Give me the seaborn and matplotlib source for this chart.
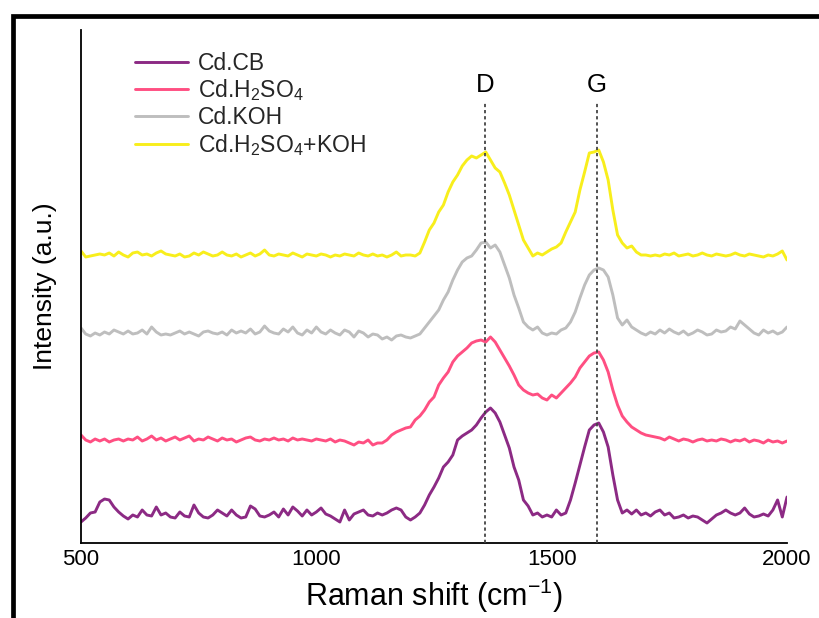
import matplotlib
matplotlib.use("Agg")
import matplotlib.pyplot as plt
import numpy as np
import pandas as pd
import seaborn as sns
from matplotlib.patches import Rectangle

# ---------------- data ----------------
shift = list(range(500, 2001, 10))

cd_cb = [
    21, 25, 30, 31, 41, 44, 43, 36, 31, 27,
    24, 28, 26, 33, 28, 27, 36, 28, 30, 26,
    25, 31, 27, 26, 38, 30, 26, 25, 28, 33,
    30, 27, 33, 28, 25, 26, 37, 34, 27, 26,
    28, 31, 26, 34, 28, 36, 32, 27, 33, 28,
    31, 35, 29, 27, 24, 21, 33, 23, 29, 31,
    33, 28, 27, 30, 28, 30, 33, 35, 33, 26,
    23, 26, 30, 38, 48, 56, 65, 76, 81, 88,
    103, 107, 110, 113, 118, 125, 131, 135, 130, 121,
    108, 95, 76, 63, 43, 37, 28, 30, 26, 28,
    26, 33, 28, 30, 43, 60, 78, 96, 113, 118,
    120, 111, 96, 68, 43, 30, 33, 29, 33, 28,
    30, 27, 31, 33, 28, 30, 25, 26, 28, 25,
    27, 26, 23, 20, 24, 28, 30, 33, 30, 28,
    30, 35, 29, 26, 27, 29, 27, 33, 43, 26,
    46,
]

cd_h2so4 = [
    108, 103, 101, 104, 102, 104, 101, 103, 104, 102,
    104, 103, 106, 102, 104, 107, 103, 105, 102, 104,
    106, 103, 105, 107, 102, 104, 103, 106, 104, 102,
    105, 103, 104, 101, 103, 105, 106, 103, 102, 104,
    103, 105, 103, 104, 102, 105, 103, 104, 103, 102,
    104, 103, 102, 104, 101, 103, 102, 100, 98, 101,
    100, 103, 98, 100, 100, 103, 108, 111, 113, 115,
    116, 123, 127, 133, 141, 146, 158, 165, 171, 181,
    187, 191, 195, 200, 202, 203, 201, 206, 201, 193,
    185, 177, 168, 158, 153, 150, 148, 149, 145, 143,
    148, 145, 150, 155, 160, 166, 175, 181, 187, 190,
    191, 183, 171, 153, 138, 127, 121, 116, 113, 110,
    108, 107, 106, 105, 103, 106, 104, 102, 104, 103,
    101, 103, 104, 102, 103, 102, 104, 103, 101, 103,
    102, 104, 101, 103, 102, 100, 103, 101, 102, 100,
    102,
]

cd_koh = [
    215, 209, 207, 210, 208, 211, 209, 213, 211, 209,
    212, 209, 210, 213, 209, 216, 211, 208, 209, 208,
    210, 212, 209, 211, 209, 207, 211, 212, 210, 209,
    211, 208, 213, 210, 212, 210, 214, 209, 211, 217,
    212, 210, 209, 214, 211, 216, 210, 208, 213, 210,
    216, 211, 209, 213, 210, 208, 213, 211, 206, 212,
    210, 206, 209, 208, 204, 206, 203, 207, 208, 206,
    205, 207, 209, 215, 221, 227, 233, 243, 251, 263,
    273, 281, 285, 287, 293, 300, 301, 295, 298, 291,
    278, 265, 248, 235, 221, 216, 213, 216, 210, 208,
    210, 209, 213, 215, 221, 231, 245, 258, 268, 273,
    275, 273, 266, 248, 225, 218, 223, 216, 213, 210,
    208, 211, 209, 213, 210, 214, 211, 209, 212, 208,
    210, 213, 211, 208, 209, 213, 211, 212, 216, 214,
    222, 218, 214, 210, 208, 213, 210, 212, 209, 211,
    216,
]

cd_h2so4_koh = [
    292, 286, 287, 288, 289, 288, 290, 287, 291, 288,
    286, 290, 291, 288, 289, 287, 290, 292, 289, 288,
    287, 289, 286, 287, 290, 288, 291, 289, 287, 288,
    291, 288, 287, 289, 286, 288, 290, 287, 289, 293,
    288, 287, 289, 288, 287, 290, 288, 286, 289, 288,
    287, 289, 288, 286, 288, 287, 289, 288, 287, 290,
    288, 287, 289, 287, 288, 286, 288, 291, 287, 288,
    288, 287, 290, 301, 313, 320, 331, 338, 351, 361,
    368, 377, 383, 387, 385, 388, 391, 383, 375, 371,
    360, 348, 333, 318, 303, 295, 287, 290, 288, 291,
    294, 296, 300, 311, 321, 331, 353, 371, 390, 391,
    393, 381, 363, 333, 308, 300, 295, 297, 291, 288,
    288, 287, 288, 287, 289, 288, 290, 287, 288, 289,
    287, 288, 290, 288, 287, 289, 288, 287, 288, 290,
    288, 287, 289, 288, 287, 286, 288, 287, 289, 292,
    283,
]

series_names = ["Cd.CB", "Cd.H$_2$SO$_4$", "Cd.KOH", "Cd.H$_2$SO$_4$+KOH"]
series_values = [cd_cb, cd_h2so4, cd_koh, cd_h2so4_koh]
series_colors = ["#8C2A84", "#FF4F82", "#BEBEBE", "#F8EE1C"]

peak_pos = [1358, 1596]
peak_names = ["D", "G"]
xticks = [500, 1000, 1500, 2000]

# ---------------- styling ----------------
sns.set_theme(style="white")
plt.rcParams["font.family"] = ["Liberation Sans", "DejaVu Sans"]
plt.rcParams["mathtext.fontset"] = "custom"
plt.rcParams["mathtext.rm"] = "Liberation Sans"
plt.rcParams["mathtext.it"] = "Liberation Sans:italic"
plt.rcParams["mathtext.bf"] = "Liberation Sans:bold"

rows = []
for name, vals in zip(series_names, series_values):
    for x, y in zip(shift, vals):
        rows.append({"shift": x, "intensity": y, "sample": name})
df = pd.DataFrame(rows)

fig = plt.figure(figsize=(8.19, 6.18), dpi=100)
ax = fig.add_axes([81 / 819, 1 - 543 / 618, 706 / 819, 513 / 618])

sns.lineplot(data=df, x="shift", y="intensity", hue="sample",
             hue_order=series_names, palette=dict(zip(series_names, series_colors)),
             estimator=None, sort=False, linewidth=2.1, ax=ax, legend=True)

for p, n in zip(peak_pos, peak_names):
    ax.vlines(p, 0, 440, colors="#444444", linestyles=(0, (1.8, 1.6)),
              linewidth=1.3, zorder=5)
    ax.text(p, 458, n, ha="center", va="center", fontsize=18.5, color="black")

ax.set_xlim(500, 2000)
ax.set_ylim(0, 513)
ax.set_xticks(xticks)
ax.set_xticklabels([str(t) for t in xticks])
ax.set_yticks([])
ax.tick_params(axis="x", length=0, pad=4, labelsize=16, colors="black")
for s in ["top", "right"]:
    ax.spines[s].set_visible(False)
for s in ["left", "bottom"]:
    ax.spines[s].set_color("black")
    ax.spines[s].set_linewidth(1.3)

ax.set_xlabel("Raman shift (cm$^{-1}$)", fontsize=22, labelpad=5, color="black")
ax.set_ylabel("Intensity (a.u.)", fontsize=19, labelpad=17, color="black")

leg = ax.legend(loc="upper left", bbox_to_anchor=(0.0765, 0.958), frameon=False,
                fontsize=16.5, handlelength=2.3, handletextpad=0.45,
                labelspacing=0.12, borderpad=0, borderaxespad=0)
for line in leg.get_lines():
    line.set_linewidth(2.1)

# thick outer frame (cut off on right and bottom)
fig.patches.append(Rectangle((13 / 819, -0.5), 2.0, 0.5 + (618 - 16) / 618,
                             transform=fig.transFigure, fill=False,
                             edgecolor="black", linewidth=3.4, clip_on=False))

fig.savefig("out.png", dpi=100)
